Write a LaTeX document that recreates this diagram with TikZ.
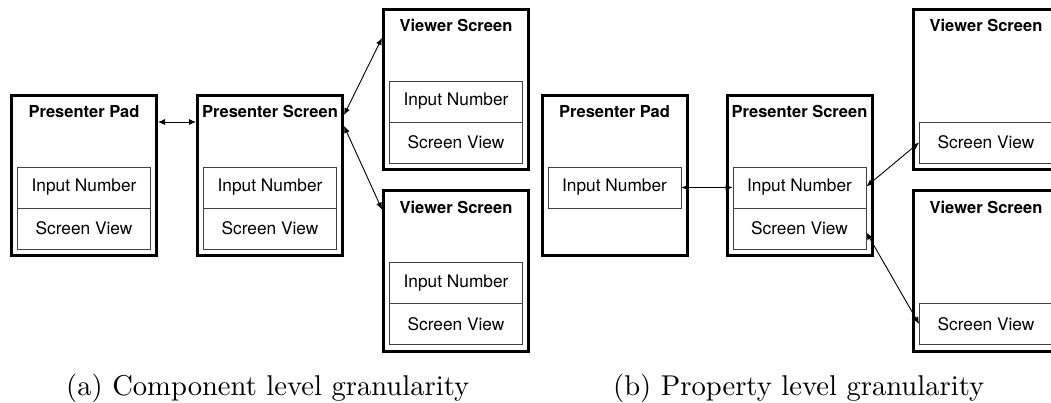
\documentclass[tikz,border=0pt]{standalone}
\usepackage{fontspec}
\usepackage{graphicx}
\newfontfamily\boxfont{TeX Gyre Heros}
\usetikzlibrary{arrows.meta,calc}
\tikzset{
  screen/.style={draw, line width=3pt, minimum width=145pt, minimum height=160pt, inner sep=0pt},
  field/.style={draw=black!75, line width=0.8pt, minimum width=133pt, minimum height=41pt,
                inner sep=0pt, font=\boxfont\fontsize{17.3}{20}\selectfont},
  title/.style={anchor=base, inner sep=0pt, font=\boxfont\bfseries\fontsize{16.5}{20}\selectfont},
  link/.style={line width=0.9pt, {Latex[length=7pt,width=6pt]}-{Latex[length=7pt,width=6pt]}},
  caption/.style={anchor=base west, inner sep=0pt}
}
\begin{document}
\begin{tikzpicture}[x=1pt,y=-1pt]
\useasboundingbox (0,0) rectangle (1051,403);
\clip (0,0) rectangle (1051,403);

% ---------- (a) component level ----------
\node[screen] (pada) at (84,175.5) {};
\node[screen] (psa)  at (270,175.5) {};
\node[screen] (vsa1) at (456,89.5) {};
\node[screen] (vsa2) at (456,271) {};

\node[title] (pada-t) at ($(pada.north)+(0,24)$) {Presenter Pad};
\node[title] (psa-t)  at ($(psa.north)+(0,24)$)  {Presenter Screen};
\node[title] (vsa1-t) at ($(vsa1.north)+(0,24)$) {Viewer Screen};
\node[title] (vsa2-t) at ($(vsa2.north)+(0,24)$) {Viewer Screen};

\node[field] (pada-in) at ($(pada.south)+(0,-69.5)$) {Input Number};
\node[field] (pada-sv) at ($(pada.south)+(0,-28.5)$) {Screen View};
\node[field] (psa-in)  at ($(psa.south)+(0,-69.5)$)  {Input Number};
\node[field] (psa-sv)  at ($(psa.south)+(0,-28.5)$)  {Screen View};
\node[field] (vsa1-in) at ($(vsa1.south)+(0,-69.5)$) {Input Number};
\node[field] (vsa1-sv) at ($(vsa1.south)+(0,-28.5)$) {Screen View};
\node[field] (vsa2-in) at ($(vsa2.south)+(0,-69.5)$) {Input Number};
\node[field] (vsa2-sv) at ($(vsa2.south)+(0,-28.5)$) {Screen View};

\draw[link] ($(pada.north east)+(0,28)$) -- ($(psa.north west)+(0,28)$);
\draw[link] ($(psa.north east)+(0,21)$) -- ($(vsa1.north west)+(0,30)$);
\draw[link] ($(psa.north east)+(0,32)$) -- ($(vsa2.north west)+(0,20)$);

% ---------- (b) property level ----------
\node[screen] (padb) at (614.5,175.5) {};
\node[screen] (psb)  at (799.5,175.5) {};
\node[screen] (vsb1) at (986,89.5) {};
\node[screen] (vsb2) at (986,271) {};

\node[title] (padb-t) at ($(padb.north)+(0,24)$) {Presenter Pad};
\node[title] (psb-t)  at ($(psb.north)+(0,24)$)  {Presenter Screen};
\node[title] (vsb1-t) at ($(vsb1.north)+(0,24)$) {Viewer Screen};
\node[title] (vsb2-t) at ($(vsb2.north)+(0,24)$) {Viewer Screen};

\node[field] (padb-in) at ($(padb.south)+(0,-69.5)$) {Input Number};
\node[field] (psb-in)  at ($(psb.south)+(0,-69.5)$)  {Input Number};
\node[field] (psb-sv)  at ($(psb.south)+(0,-28.5)$)  {Screen View};
\node[field] (vsb1-sv) at ($(vsb1.south)+(0,-28.5)$) {Screen View};
\node[field] (vsb2-sv) at ($(vsb2.south)+(0,-28.5)$) {Screen View};

\draw[link] (padb-in.east) -- (psb-in.west);
\draw[link] ($(psb-in.east)+(0,-1)$) -- (vsb1-sv.west);
\draw[link] ($(psb-sv.east)+(0,4)$) -- (vsb2-sv.west);

% ---------- captions ----------
\node[caption] (capa) at (66,395)  {\scalebox{2.86}{(a) Component level granularity}};
\node[caption] (capb) at (613,395) {\scalebox{2.86}{(b) Property level granularity}};
\end{tikzpicture}
\end{document}
